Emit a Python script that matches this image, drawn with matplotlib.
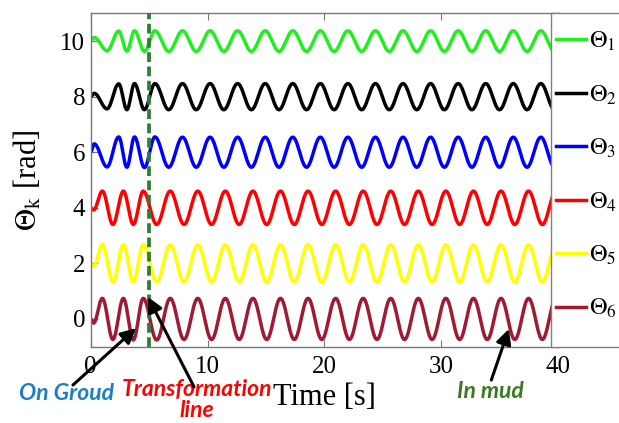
import numpy as np
import matplotlib
matplotlib.use("Agg")
import matplotlib.pyplot as plt
from matplotlib.lines import Line2D
from matplotlib.patches import Rectangle

plt.rcParams['font.family'] = ['Liberation Serif', 'DejaVu Serif']
plt.rcParams['mathtext.fontset'] = 'stix'

# ---- data: extrema (time, value) of each angle ----
t_upper = [0.0, 0.3, 1.4, 2.4, 3.1, 3.75, 4.6, 5.5,
           6.68, 7.86, 9.04, 10.22, 11.4, 12.58, 13.76, 14.94,
           16.12, 17.3, 18.48, 19.66, 20.84, 22.02, 23.2, 24.38,
           25.56, 26.74, 27.92, 29.1, 30.28, 31.46, 32.64, 33.82,
           35.0, 36.18, 37.36, 38.54, 39.72]
t_lower = [0.0, 0.25, 1.0, 1.9, 2.8, 3.65, 4.5, 5.65,
           6.81, 7.99, 9.17, 10.35, 11.53, 12.71, 13.89, 15.07,
           16.25, 17.43, 18.61, 19.79, 20.97, 22.15, 23.33, 24.51,
           25.69, 26.87, 28.05, 29.23, 30.41, 31.59, 32.77, 33.95,
           35.13, 36.31, 37.49, 38.67, 39.85]

theta1 = [10.00, 10.13, 9.65, 10.36, 9.64, 10.37, 9.63, 10.37,
          9.63, 10.37, 9.63, 10.37, 9.63, 10.37, 9.63, 10.37,
          9.63, 10.37, 9.63, 10.37, 9.63, 10.37, 9.63, 10.37,
          9.63, 10.37, 9.63, 10.37, 9.63, 10.37, 9.63, 10.37,
          9.63, 10.37, 9.63, 10.37, 9.63]
theta2 = [8.00, 8.12, 7.56, 8.46, 7.53, 8.47, 7.53, 8.47,
          7.53, 8.47, 7.53, 8.47, 7.53, 8.47, 7.53, 8.47,
          7.53, 8.47, 7.53, 8.47, 7.53, 8.47, 7.53, 8.47,
          7.53, 8.47, 7.53, 8.47, 7.53, 8.47, 7.53, 8.47,
          7.53, 8.47, 7.53, 8.47, 7.53]
theta3 = [6.00, 6.30, 5.47, 6.55, 5.46, 6.55, 5.45, 6.55,
          5.46, 6.54, 5.46, 6.54, 5.46, 6.54, 5.46, 6.54,
          5.46, 6.54, 5.46, 6.54, 5.46, 6.54, 5.46, 6.54,
          5.46, 6.54, 5.46, 6.54, 5.46, 6.54, 5.46, 6.54,
          5.46, 6.54, 5.46, 6.54, 5.46]
theta4 = [4.00, 3.92, 4.60, 3.40, 4.60, 3.40, 4.60, 3.40,
          4.60, 3.40, 4.60, 3.40, 4.60, 3.40, 4.60, 3.40,
          4.60, 3.40, 4.60, 3.40, 4.60, 3.40, 4.60, 3.40,
          4.60, 3.40, 4.60, 3.40, 4.60, 3.40, 4.60, 3.40,
          4.60, 3.40, 4.60, 3.40, 4.60]
theta5 = [2.00, 1.88, 2.68, 1.33, 2.67, 1.33, 2.67, 1.33,
          2.67, 1.33, 2.67, 1.33, 2.67, 1.33, 2.67, 1.33,
          2.67, 1.33, 2.67, 1.33, 2.67, 1.33, 2.67, 1.33,
          2.67, 1.33, 2.67, 1.33, 2.67, 1.33, 2.67, 1.33,
          2.67, 1.33, 2.67, 1.33, 2.67]
theta6 = [0.00, -0.15, 0.74, -0.74, 0.74, -0.76, 0.74, -0.76,
          0.74, -0.74, 0.74, -0.74, 0.74, -0.74, 0.74, -0.74,
          0.74, -0.74, 0.74, -0.74, 0.74, -0.74, 0.74, -0.74,
          0.74, -0.74, 0.74, -0.74, 0.74, -0.74, 0.74, -0.74,
          0.74, -0.74, 0.74, -0.74, 0.74]

series = [(t_upper, theta1), (t_upper, theta2), (t_upper, theta3),
          (t_lower, theta4), (t_lower, theta5), (t_lower, theta6)]
labels = [r'$\Theta_1$', r'$\Theta_2$', r'$\Theta_3$',
          r'$\Theta_4$', r'$\Theta_5$', r'$\Theta_6$']
colors = ['#1ef01e', '#000000', '#0000ff', '#ff0000', '#ffff00', '#9e1b32']

x_ticks = [0, 10, 20, 30, 40]
y_ticks = [0, 2, 4, 6, 8, 10]
t_transform = 5.0


def smooth(ts, vs, n=24):
    """Draw each half swing between two read extrema as a smooth arc."""
    xs, ys = [], []
    for i in range(len(ts) - 1):
        s = np.linspace(0, 1, n, endpoint=False)
        xs.append(ts[i] + (ts[i + 1] - ts[i]) * s)
        ys.append(vs[i] + (vs[i + 1] - vs[i]) * (1 - np.cos(np.pi * s)) / 2)
    xs.append([ts[-1]])
    ys.append([vs[-1]])
    return np.concatenate(xs), np.concatenate(ys)


W, H = 619, 423
fig = plt.figure(figsize=(W / 100, H / 100), dpi=100)
ax = fig.add_axes([90.7 / W, 76.3 / H, (557.9 - 90.7) / W, 333.4 / H])

handles = []
for (ts, vs), c, lab in zip(series, colors, labels):
    x, y = smooth(ts, vs)
    ax.plot(x, y, color=c, lw=2.5, solid_capstyle='round')
    handles.append(Line2D([], [], color=c, lw=2.5))

ax.axvline(t_transform, color='#2e7d32', lw=2.7, dashes=(2.6, 1.2), zorder=4)

ax.set_xlim(0, 40)
ax.set_ylim(-1, 11)
ax.set_xticks(x_ticks)
ax.set_yticks(y_ticks)
ax.tick_params(direction='in', top=True, right=True, length=5, width=0.8,
               color='#777777', labelsize=18)
ax.tick_params(axis='x', pad=7)
ax.tick_params(axis='y', pad=4)
for sp in ax.spines.values():
    sp.set_color('#777777')
    sp.set_linewidth(1.0)

ax.set_xlabel('Time [s]', fontsize=22, labelpad=3)
ax.set_ylabel(r'$\Theta_\mathrm{k}$ [rad]', fontsize=22, labelpad=12)

# legend box covering the right part of the axes
rect = Rectangle((551 / W, 76.3 / H), 0.2, 333.4 / H, transform=fig.transFigure,
                 facecolor='white', edgecolor='#808080', lw=1.0, zorder=4)
fig.add_artist(rect)
leg = fig.legend(handles, labels, loc='upper left',
                 bbox_to_anchor=(556 / W, 1 - 30 / H), frameon=False,
                 fontsize=17.5, handlelength=1.25, handletextpad=0.1,
                 labelspacing=1.24, borderpad=0, borderaxespad=0)
leg.set_zorder(6)

# annotations
afont = dict(family=['Lato', 'DejaVu Sans'], weight='bold', style='italic',
             fontsize=16.5, ha='center', va='center')
ax.text(-2.1, -2.67, 'On Groud', color='#1a7fc4', clip_on=False, **afont)
ax.text(9.1, -2.93, 'Transformation\nline', color='#ff0000', clip_on=False,
        linespacing=1.0, **afont)
ax.text(34.2, -2.63, 'In mud', color='#3b7a1f', clip_on=False, **afont)

aprops = dict(arrowstyle='-|>,head_length=0.5,head_width=0.25', lw=2.2,
              color='black', shrinkA=0, shrinkB=0, mutation_scale=18)
for tail, tip in [((-1.52, -2.38), (3.88, -0.33)),
                  ((8.85, -2.45), (4.9, 0.79)),
                  ((34.3, -2.2), (35.8, -0.36))]:
    ax.annotate('', xy=tip, xytext=tail, arrowprops=aprops,
                annotation_clip=False, zorder=7)

fig.savefig('out.png', dpi=100)
